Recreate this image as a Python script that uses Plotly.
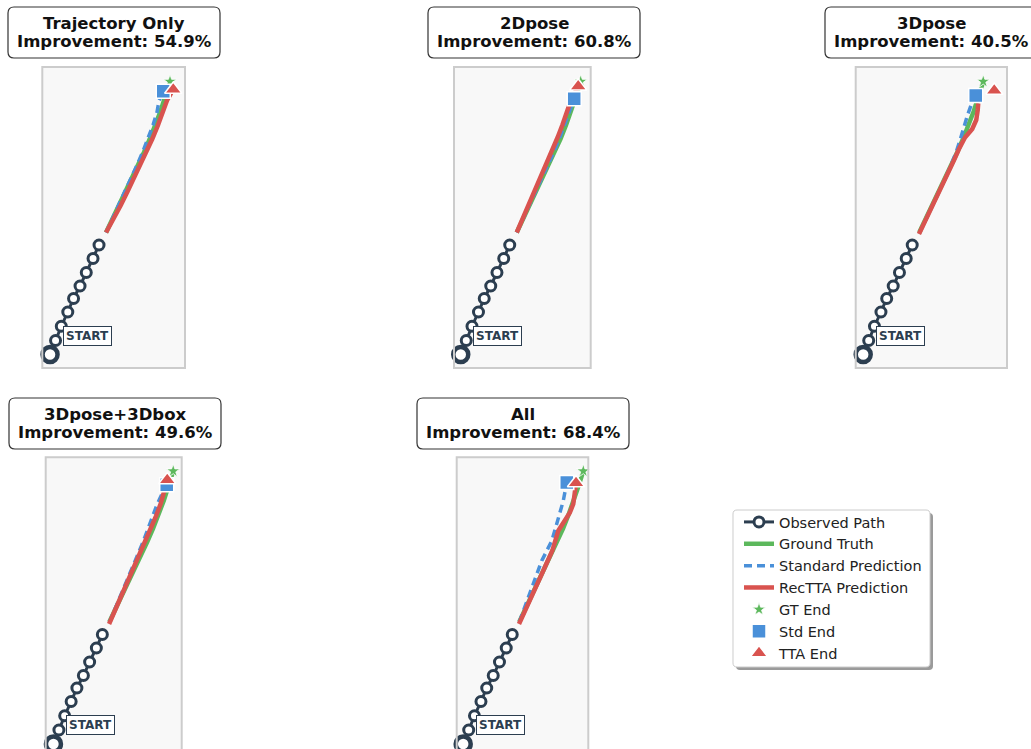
import plotly.graph_objects as go

W, H = 1031, 749

# ---- data (metres, relative to the first observed position) ----
obs_x = [0.00, 0.22, 0.45, 0.71, 0.94, 1.20, 1.45, 1.72, 1.96]
obs_y = [0.00, 0.56, 1.13, 1.70, 2.24, 2.74, 3.28, 3.84, 4.38]

gt_x = [2.24, 2.50, 2.76, 3.02, 3.27, 3.52, 3.76, 3.99, 4.21, 4.42, 4.61, 4.80]
gt_y = [4.88, 5.42, 5.96, 6.50, 7.03, 7.56, 8.09, 8.62, 9.17, 9.73, 10.32, 10.92]

panel_names = ["Trajectory Only", "2Dpose", "3Dpose", "3Dpose+3Dbox", "All"]
improvement = [54.9, 60.8, 40.5, 49.6, 68.4]

# standard prediction per panel
std_x = [
    [2.24, 2.50, 2.76, 3.01, 3.25, 3.49, 3.72, 3.93, 4.12, 4.28, 4.36, 4.53],
    [2.24, 2.49, 2.75, 3.00, 3.25, 3.49, 3.72, 3.94, 4.14, 4.32, 4.45, 4.54],
    [2.24, 2.52, 2.80, 3.06, 3.30, 3.52, 3.72, 3.88, 4.02, 4.18, 4.34, 4.50],
    [2.24, 2.47, 2.70, 2.93, 3.16, 3.38, 3.58, 3.77, 3.95, 4.14, 4.34, 4.54],
    [2.24, 2.42, 2.61, 2.80, 2.97, 3.14, 3.34, 3.54, 3.68, 3.80, 4.00, 4.14],
]
std_y = [
    [4.88, 5.43, 5.98, 6.52, 7.06, 7.60, 8.13, 8.66, 9.18, 9.70, 10.15, 10.53],
    [4.88, 5.42, 5.96, 6.50, 7.03, 7.56, 8.09, 8.62, 9.14, 9.64, 9.98, 10.23],
    [4.84, 5.42, 6.00, 6.55, 7.08, 7.60, 8.10, 8.60, 9.10, 9.60, 10.05, 10.36],
    [4.86, 5.40, 5.94, 6.48, 7.02, 7.55, 8.06, 8.56, 9.06, 9.55, 9.98, 10.37],
    [4.88, 5.38, 5.89, 6.40, 6.86, 7.33, 7.73, 8.13, 8.60, 9.06, 9.73, 10.46],
]

# RecTTA prediction per panel
tta_x = [
    [2.24, 2.55, 2.83, 3.10, 3.36, 3.61, 3.86, 4.09, 4.31, 4.52, 4.68, 4.93],
    [2.24, 2.48, 2.72, 2.97, 3.21, 3.44, 3.66, 3.87, 4.07, 4.26, 4.42, 4.70],
    [2.23, 2.55, 2.87, 3.15, 3.42, 3.62, 3.82, 4.07, 4.36, 4.52, 4.58, 4.60],
    [2.23, 2.47, 2.72, 2.97, 3.21, 3.45, 3.68, 3.90, 4.11, 4.30, 4.44, 4.56],
    [2.23, 2.48, 2.74, 2.97, 3.20, 3.38, 3.56, 3.80, 4.06, 4.26, 4.40, 4.51],
]
tta_y = [
    [4.88, 5.42, 5.97, 6.52, 7.05, 7.58, 8.10, 8.62, 9.15, 9.68, 10.16, 10.60],
    [4.88, 5.43, 5.98, 6.53, 7.07, 7.61, 8.14, 8.67, 9.19, 9.71, 10.20, 10.73],
    [4.82, 5.48, 6.13, 6.70, 7.25, 7.75, 8.20, 8.68, 9.02, 9.38, 9.78, 10.05],
    [4.80, 5.35, 5.90, 6.45, 7.00, 7.55, 8.08, 8.60, 9.12, 9.62, 10.10, 10.56],
    [4.80, 5.33, 5.86, 6.40, 6.93, 7.33, 7.73, 8.53, 8.90, 9.25, 9.60, 10.44],
]

# end-point markers per panel
std_end_x = [4.53, 4.54, 4.50, 4.54, 4.14]
std_end_y = [10.53, 10.23, 10.36, 10.37, 10.46]
tta_end_x = [4.93, 4.70, 5.24, 4.56, 4.51]
tta_end_y = [10.60, 10.73, 10.56, 10.56, 10.44]

# ---- layout of the panels (pixels) ----
panel_box = [  # left, right, top, bottom
    (42.3, 185.0, 67.0, 368.0),
    (454.0, 590.7, 67.0, 368.0),
    (855.7, 1007.0, 67.0, 368.0),
    (45.7, 181.7, 457.3, 749.0),
    (456.7, 588.3, 457.3, 749.0),
]
x_ranges = [(-0.31, 5.40), (-0.27, 5.20), (-0.30, 5.75), (-0.31, 5.14), (-0.26, 5.00)]
y_ranges = [(-0.54, 11.50)] * 3 + [(-0.20, 11.47)] * 2
title_cx = [114, 534, 931, 115, 523]
title_top = [7, 7, 7, 398, 398]

NAVY = "#2c3e50"
GREEN = "#5cb85c"
BLUE = "#4a90d9"
RED = "#d9534f"
FONT = "DejaVu Sans"


def px(x):
    return x / W


def py(y):
    return 1 - y / H


def rrect(x0, y0, x1, y1, r):
    def P(x, y):
        return f"{px(x):.5f},{py(y):.5f}"
    return (f"M{P(x0 + r, y0)} L{P(x1 - r, y0)} Q{P(x1, y0)} {P(x1, y0 + r)} "
            f"L{P(x1, y1 - r)} Q{P(x1, y1)} {P(x1 - r, y1)} L{P(x0 + r, y1)} "
            f"Q{P(x0, y1)} {P(x0, y1 - r)} L{P(x0, y0 + r)} Q{P(x0, y0)} {P(x0 + r, y0)} Z")


fig = go.Figure()
shapes = []
annotations = []

for i in range(5):
    ax = "" if i == 0 else str(i + 1)
    xa, ya = "x" + ax, "y" + ax
    leg = i == 0

    fig.add_trace(go.Scatter(
        x=obs_x, y=obs_y, xaxis=xa, yaxis=ya, mode="lines+markers",
        name="Observed Path", showlegend=leg,
        line=dict(color=NAVY, width=3),
        marker=dict(symbol="circle", size=10, color="white",
                    line=dict(color=NAVY, width=3)),
        cliponaxis=False))
    fig.add_trace(go.Scatter(
        x=obs_x[:1], y=obs_y[:1], xaxis=xa, yaxis=ya, mode="markers",
        showlegend=False,
        marker=dict(symbol="circle", size=15, color="white",
                    line=dict(color=NAVY, width=4.5)),
        cliponaxis=False))
    fig.add_trace(go.Scatter(
        x=gt_x, y=gt_y, xaxis=xa, yaxis=ya, mode="lines",
        name="Ground Truth", showlegend=leg,
        line=dict(color=GREEN, width=4.5)))
    fig.add_trace(go.Scatter(
        x=std_x[i], y=std_y[i], xaxis=xa, yaxis=ya, mode="lines",
        name="Standard Prediction", showlegend=leg,
        line=dict(color=BLUE, width=3.5, dash="8px,5px")))
    fig.add_trace(go.Scatter(
        x=tta_x[i], y=tta_y[i], xaxis=xa, yaxis=ya, mode="lines",
        name="RecTTA Prediction", showlegend=leg,
        line=dict(color=RED, width=4.5)))
    fig.add_trace(go.Scatter(
        x=gt_x[-1:], y=gt_y[-1:], xaxis=xa, yaxis=ya, mode="markers",
        name="GT End", showlegend=leg,
        marker=dict(symbol="star", size=10, color=GREEN,
                    line=dict(color="white", width=0.8)),
        cliponaxis=False))
    fig.add_trace(go.Scatter(
        x=[std_end_x[i]], y=[std_end_y[i]], xaxis=xa, yaxis=ya, mode="markers",
        name="Std End", showlegend=leg,
        marker=dict(symbol="square", size=14, color=BLUE,
                    line=dict(color="white", width=1.5)),
        cliponaxis=False))
    fig.add_trace(go.Scatter(
        x=[tta_end_x[i]], y=[tta_end_y[i]], xaxis=xa, yaxis=ya, mode="markers",
        name="TTA End", showlegend=leg,
        marker=dict(symbol="triangle-up", size=15, color=RED,
                    line=dict(color="white", width=1.5)),
        cliponaxis=False))

    l, r, t, b = panel_box[i]
    axis_common = dict(showgrid=False, zeroline=False, showticklabels=False,
                       ticks="", showline=False, fixedrange=True)
    fig.update_layout(**{
        ("xaxis" + ax): dict(domain=[px(l), px(r)], range=list(x_ranges[i]),
                              anchor=ya, **axis_common),
        ("yaxis" + ax): dict(domain=[py(b), py(t)], range=list(y_ranges[i]),
                              anchor=xa, **axis_common),
    })

    # panel frame
    bottom = b if b < H else t + 301
    shapes.append(dict(type="rect", xref="paper", yref="paper",
                       x0=px(l), x1=px(r), y0=py(bottom), y1=py(t),
                       line=dict(color="#cccccc", width=2), layer="above"))

    # START label
    annotations.append(dict(
        x=obs_x[0], y=obs_y[0], xref=xa, yref=ya, showarrow=False,
        text="<b>START</b>", xshift=37, yshift=19,
        font=dict(family=FONT, size=12, color=NAVY),
        bgcolor="white", bordercolor=NAVY, borderwidth=1, borderpad=2))

    # title box
    cx, ty = title_cx[i], title_top[i]
    shapes.append(dict(type="path", xref="paper", yref="paper",
                       path=rrect(cx - 106, ty, cx + 106, ty + 51, 6),
                       fillcolor="white", line=dict(color="#333333", width=1.2),
                       layer="above"))
    annotations.append(dict(
        x=px(cx), y=py(ty + 16), xref="paper", yref="paper", showarrow=False,
        text=f"<b>{panel_names[i]}</b>", xanchor="center", yanchor="middle",
        font=dict(family=FONT, size=16.5, color="#111111")))
    annotations.append(dict(
        x=px(cx), y=py(ty + 34.5), xref="paper", yref="paper", showarrow=False,
        text=f"<b>Improvement: {improvement[i]}%</b>", xanchor="center",
        yanchor="middle", font=dict(family=FONT, size=16.5, color="#111111")))

# legend frame with drop shadow
shapes.append(dict(type="path", xref="paper", yref="paper",
                   path=rrect(736, 513, 933, 670, 4), fillcolor="#9a9a9a",
                   line=dict(width=0), layer="above"))
shapes.append(dict(type="path", xref="paper", yref="paper",
                   path=rrect(733, 510, 930, 667, 4), fillcolor="white",
                   line=dict(color="#cccccc", width=1), layer="above"))

fig.update_layout(
    width=W, height=H, autosize=False,
    margin=dict(l=0, r=0, t=0, b=0),
    paper_bgcolor="white", plot_bgcolor="#f8f8f8",
    shapes=shapes, annotations=annotations,
    legend=dict(x=px(739), y=py(506), xanchor="left", yanchor="top",
                bgcolor="rgba(0,0,0,0)", borderwidth=0,
                font=dict(family=FONT, size=14.5, color="#222222"),
                traceorder="normal"),
    font=dict(family=FONT),
)

fig.write_html("out.html")
